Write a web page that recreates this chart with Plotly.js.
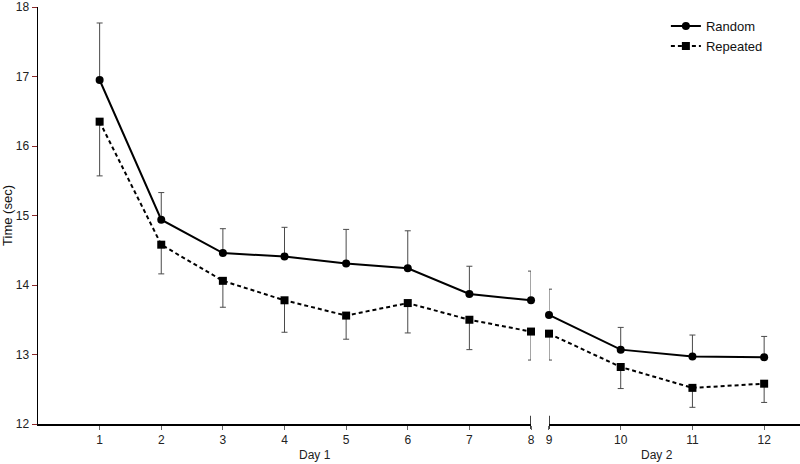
<!DOCTYPE html>
<html>
<head>
<meta charset="utf-8">
<script src="https://cdn.plot.ly/plotly-3.0.1.min.js"></script>
<style>html,body{margin:0;padding:0;background:#fff;}#chart{width:800px;height:464px;}</style>
</head>
<body>
<div id="chart"></div>
<script>
// Blocks (x positions), Day 1 = 1-8, Day 2 = 9-12
const blocks = [1, 2, 3, 4, 5, 6, 7, 8, 9, 10, 11, 12];
const randomMean = [16.95, 14.94, 14.46, 14.41, 14.31, 14.24, 13.87, 13.78, 13.57, 13.07, 12.97, 12.96];
const randomErr  = [0.82, 0.39, 0.35, 0.42, 0.49, 0.54, 0.40, 0.42, 0.37, 0.32, 0.31, 0.30];
const repeatedMean = [16.35, 14.58, 14.06, 13.78, 13.56, 13.74, 13.50, 13.33, 13.30, 12.82, 12.52, 12.58];
const repeatedErr  = [0.78, 0.42, 0.38, 0.46, 0.34, 0.43, 0.43, 0.41, 0.38, 0.31, 0.28, 0.27];
const day1Ticks = [1, 2, 3, 4, 5, 6, 7, 8];
const day2Ticks = [9, 10, 11, 12];
const yTicks = [12, 13, 14, 15, 16, 17, 18];

const day1Idx = blocks.map((b, i) => i).filter(i => blocks[i] <= 8);
const day2Idx = blocks.map((b, i) => i).filter(i => blocks[i] >= 9);
const pick = (arr, idx) => idx.map(i => arr[i]);
const zeros = n => new Array(n).fill(0);

const errStyle = {color: '#4a4a4a', thickness: 1, width: 3};

function randomTrace(idx, xa, show) {
  return {
    x: pick(blocks, idx), y: pick(randomMean, idx), xaxis: xa, yaxis: 'y', cliponaxis: false,
    type: 'scatter', mode: 'lines+markers', name: 'Random', legendgroup: 'r', showlegend: show,
    line: {color: '#000', width: 2}, marker: {symbol: 'circle', size: 8, color: '#000'},
    error_y: Object.assign({type: 'data', symmetric: false, array: pick(randomErr, idx), arrayminus: zeros(idx.length)}, errStyle)
  };
}
function repeatedTrace(idx, xa, show) {
  return {
    x: pick(blocks, idx), y: pick(repeatedMean, idx), xaxis: xa, yaxis: 'y', cliponaxis: false,
    type: 'scatter', mode: 'lines+markers', name: 'Repeated', legendgroup: 'p', showlegend: show,
    line: {color: '#000', width: 2, dash: '4px,3px'}, marker: {symbol: 'square', size: 8, color: '#000'},
    error_y: Object.assign({type: 'data', symmetric: false, array: zeros(idx.length), arrayminus: pick(repeatedErr, idx)}, errStyle)
  };
}

const data = [
  repeatedTrace(day1Idx, 'x', false), repeatedTrace(day2Idx, 'x2', false),
  randomTrace(day1Idx, 'x', false), randomTrace(day2Idx, 'x2', false),
  Object.assign(randomTrace([], 'x', true), {x: [null], y: [null]}),
  Object.assign(repeatedTrace([], 'x', true), {x: [null], y: [null]})
];

const font = {family: 'Liberation Sans, Arial, sans-serif', size: 12, color: '#222'};
const bigFont = {family: 'Liberation Sans, Arial, sans-serif', size: 13, color: '#111'};
const xBase = {
  showline: true, linecolor: '#000', linewidth: 1.5, showgrid: false, zeroline: false,
  ticks: 'outside', ticklen: 4, tickcolor: '#666', tickwidth: 1, tickfont: font, anchor: 'y'
};

const layout = {
  width: 800, height: 464,
  margin: {l: 38, r: 0, t: 7, b: 40},
  paper_bgcolor: '#fff', plot_bgcolor: '#fff',
  font: font,
  showlegend: true,
  legend: {x: 0.824, y: 0.99, xanchor: 'left', yanchor: 'top', font: bigFont, bgcolor: 'rgba(0,0,0,0)', tracegroupgap: 0, itemwidth: 30},
  xaxis: Object.assign({}, xBase, {domain: [0, 0.647], range: [0, 8], tickvals: day1Ticks, ticktext: day1Ticks.map(String)}),
  xaxis2: Object.assign({}, xBase, {domain: [0.6706, 1], range: [9, 12.5], tickvals: day2Ticks, ticktext: day2Ticks.map(String)}),
  yaxis: {
    range: [12, 18], tickvals: yTicks, ticktext: yTicks.map(String),
    showline: true, linecolor: '#000', linewidth: 1.5, showgrid: false, zeroline: false,
    ticks: 'outside', ticklen: 5, tickcolor: '#8b2a2a', tickwidth: 1, tickfont: font,
    ticklabeloverflow: 'allow',
    title: {text: 'Time (sec)', font: bigFont, standoff: 6}
  },
  shapes: [
    {type: 'line', xref: 'x', yref: 'paper', x0: 8, x1: 8, y0: -0.012, y1: 0.02, line: {color: '#000', width: 1.5}},
    {type: 'line', xref: 'x2', yref: 'paper', x0: 9, x1: 9, y0: -0.012, y1: 0.02, line: {color: '#000', width: 1.5}}
  ],
  annotations: [
    {text: 'Day 1', xref: 'x', x: 4.5, yref: 'paper', y: -0.075, yanchor: 'middle', showarrow: false, font: font},
    {text: 'Day 2', xref: 'x2', x: 10.5, yref: 'paper', y: -0.075, yanchor: 'middle', showarrow: false, font: font}
  ]
};

Plotly.newPlot('chart', data, layout, {displayModeBar: false, staticPlot: true});
</script>
</body>
</html>
